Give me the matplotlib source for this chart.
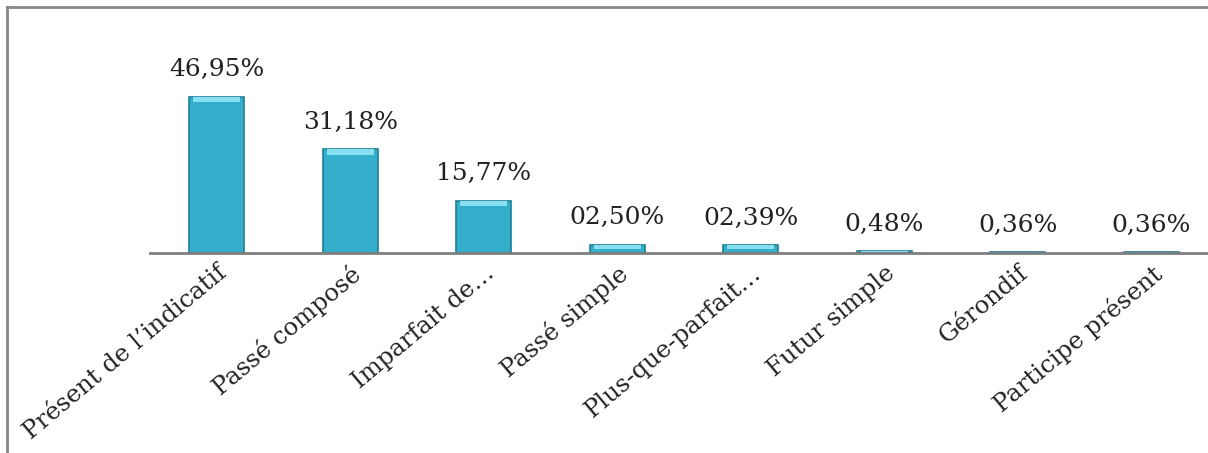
import matplotlib
matplotlib.use("Agg")
import matplotlib.pyplot as plt
from matplotlib.lines import Line2D

# Données du graphique
temps = ["Présent de l’indicatif", "Passé composé", "Imparfait de…", "Passé simple",
         "Plus-que-parfait…", "Futur simple", "Gérondif", "Participe présent"]
pourcentages = [46.95, 31.18, 15.77, 2.50, 2.39, 0.48, 0.36, 0.36]
etiquettes = ["46,95%", "31,18%", "15,77%", "02,50%", "02,39%", "0,48%", "0,36%", "0,36%"]

plt.rcParams['font.family'] = ['DejaVu Serif']

fig = plt.figure(figsize=(12.08, 4.53), dpi=100)
W, H = 1208, 453
# l'axe commence à x=150 et déborde à droite (image coupée)
ax = fig.add_axes([150 / W, (H - 253) / H, 1068 / W, 233 / H])

x = list(range(len(temps)))
barres = ax.bar(x, pourcentages, width=0.41, color='#34aecb', edgecolor='#1f7f98',
                linewidth=1.2, zorder=2)

# petit reflet clair en haut des barres
for b in barres:
    h = b.get_height()
    haut = min(1.6, h * 0.5)
    ax.bar(b.get_x() + b.get_width() / 2, haut, bottom=h - haut, width=b.get_width() * 0.85,
           color='#86e0f2', linewidth=0, zorder=3)

for xi, v, t in zip(x, pourcentages, etiquettes):
    ax.annotate(t, (xi, v), xytext=(0, 11), textcoords='offset points',
                ha='center', va='bottom', fontsize=18, color='#222222')

ax.set_xlim(-0.5, len(temps) - 0.5)
ax.set_ylim(0, 70)
for s in ['top', 'right', 'left']:
    ax.spines[s].set_visible(False)
ax.spines['bottom'].set_color('#7f7f7f')
ax.spines['bottom'].set_linewidth(2)
ax.set_yticks([])
ax.set_xticks(x)
ax.set_xticklabels(temps, rotation=40, ha='right', rotation_mode='anchor', fontsize=17.5,
                   color='#222222')
ax.tick_params(axis='x', length=0, pad=6)

# cadre gris autour du graphique (coupé à droite et en bas)
fig.add_artist(Line2D([7 / W, 7 / W], [0, 1 - 7 / H], transform=fig.transFigure,
                      color='#888888', linewidth=2))
fig.add_artist(Line2D([7 / W, 1], [1 - 7 / H, 1 - 7 / H], transform=fig.transFigure,
                      color='#888888', linewidth=2))

fig.savefig('out.png', dpi=100)
